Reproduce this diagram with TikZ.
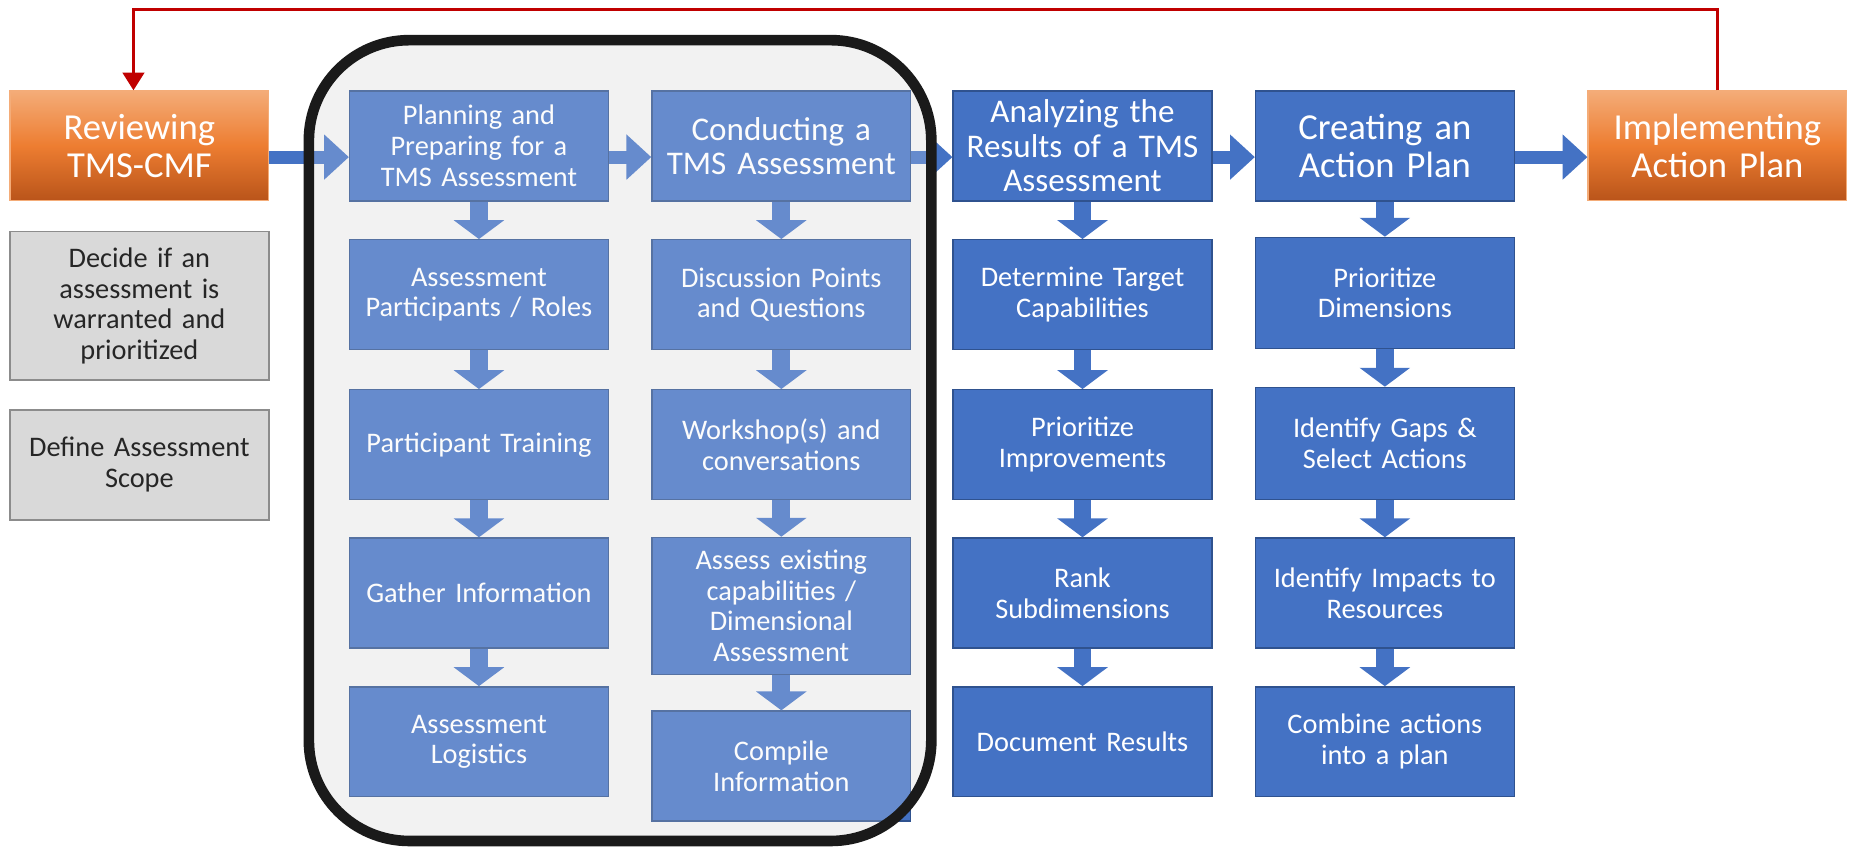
\documentclass[tikz,border=0pt]{standalone}
\usepackage{fontspec}
\setmainfont{Carlito}
\usetikzlibrary{arrows.meta,calc}
\definecolor{boxblue}{HTML}{4472C4}
\definecolor{boxedge}{HTML}{2F528F}
\definecolor{panelgray}{HTML}{F2F2F2}
\definecolor{notegray}{HTML}{D9D9D9}
\definecolor{noteedge}{HTML}{8C8C8C}
\definecolor{orangetop}{HTML}{F4AC78}
\definecolor{orangemid}{HTML}{ED7D31}
\definecolor{orangebot}{HTML}{B9541A}
\definecolor{loopred}{HTML}{C00000}
\definecolor{notetext}{HTML}{262626}
\definecolor{panelline}{HTML}{1A1A1A}
\begin{document}
\begin{tikzpicture}[x=1pt,y=-1pt,
 stepbox/.style={draw=boxedge, line width=1.2pt, fill=boxblue, text=white, minimum width=219pt, minimum height=93pt, inner sep=0pt, align=center, text width=212pt, font=\fontsize{24}{26}\selectfont},
 headbox/.style={stepbox, font=\fontsize{31}{32}\selectfont},
 midhead/.style={stepbox, font=\fontsize{28}{29}\selectfont},
 phasebox/.style={draw=orangetop, line width=1pt, top color=orangetop, bottom color=orangebot, middle color=orangemid, text=white, minimum width=219pt, minimum height=93pt, inner sep=0pt, align=center, text width=212pt, font=\fontsize{31}{32}\selectfont},
 notebox/.style={draw=noteedge, line width=1.5pt, fill=notegray, text=notetext, minimum width=219pt, inner sep=0pt, align=center, text width=212pt, font=\fontsize{24}{26}\selectfont},
 harrow/.style={draw=boxblue, line width=11pt, -{Triangle[length=21pt,width=37pt]}},
 varrow/.style={draw=boxblue, line width=15pt, -{Triangle[length=16pt,width=42pt]}},
 looparrow/.style={draw=loopred, line width=3pt, -{Triangle[length=15pt,width=18pt]}},
]
\useasboundingbox (0,0) rectangle (1568,718);
\fill[white] (0,0) rectangle (1568,718);

% grey panel background
\fill[panelgray, rounded corners=85pt] (261.5,34) rectangle (788.5,712);

% phase boxes
\node[phasebox] (rev) at (118,123.5) {Reviewing\\TMS-CMF};
\node[phasebox] (impl) at (1454,123.5) {Implementing\\Action Plan};

% note boxes
\node[notebox, minimum height=126pt] (decide) at (118,259) {Decide if an\\assessment is\\warranted and\\prioritized};
\node[notebox, minimum height=93pt] (define) at (118,393.5) {Define Assessment\\Scope};

% column 1
\node[stepbox] (p1) at (405.5,123.5) {Planning and\\Preparing for a\\TMS Assessment};
\node[stepbox] (p2) at (405.5,249.5) {Assessment\\Participants / Roles};
\node[stepbox] (p3) at (405.5,376.5) {Participant Training};
\node[stepbox] (p4) at (405.5,502) {Gather Information};
\node[stepbox] (p5) at (405.5,628) {Assessment\\Logistics};

% column 2
\node[midhead] (c1) at (661.5,123.5) {Conducting a\\TMS Assessment};
\node[stepbox] (c2) at (661.5,249.5) {Discussion Points\\and Questions};
\node[stepbox] (c3) at (661.5,376.5) {Workshop(s) and\\conversations};
\node[stepbox, minimum height=116pt] (c4) at (661.5,513) {Assess existing\\capabilities /\\Dimensional\\Assessment};
\node[stepbox] (c5) at (661.5,648.5) {Compile\\Information};

% column 3
\node[midhead] (a1) at (916.5,123.5) {Analyzing the\\Results of a TMS\\Assessment};
\node[stepbox] (a2) at (916.5,249.5) {Determine Target\\Capabilities};
\node[stepbox] (a3) at (916.5,376.5) {Prioritize\\Improvements};
\node[stepbox] (a4) at (916.5,502) {Rank\\Subdimensions};
\node[stepbox] (a5) at (916.5,628) {Document Results};

% column 4
\node[headbox] (k1) at (1172.5,123.5) {Creating an\\Action Plan};
\node[stepbox, minimum height=94pt] (k2) at (1172.5,248) {Prioritize\\Dimensions};
\node[stepbox, minimum height=95pt] (k3) at (1172.5,375.5) {Identify Gaps \&\\Select Actions};
\node[stepbox] (k4) at (1172.5,502) {Identify Impacts to\\Resources};
\node[stepbox] (k5) at (1172.5,628) {Combine actions\\into a plan};

% horizontal arrows
\draw[harrow] ([yshift=-9.5pt]rev.east) -- ([yshift=-9.5pt]p1.west);
\draw[harrow] ([yshift=-9.5pt]p1.east) -- ([yshift=-9.5pt]c1.west);
\draw[harrow] ([yshift=-9.5pt]c1.east) -- ([yshift=-9.5pt]a1.west);
\draw[harrow] ([yshift=-9.5pt]a1.east) -- ([yshift=-9.5pt]k1.west);
\draw[harrow] ([yshift=-9.5pt]k1.east) -- ([yshift=-9.5pt]impl.west);

% vertical arrows
\foreach \col in {p,c,a,k}{
  \draw[varrow] (\col1.south) -- (\col2.north);
  \draw[varrow] (\col2.south) -- (\col3.north);
  \draw[varrow] (\col3.south) -- (\col4.north);
  \draw[varrow] (\col4.south) -- (\col5.north);
}

% feedback loop
\coordinate (looptop) at (113,8);
\draw[looparrow] (impl.north) |- (looptop) -- ([xshift=-5pt]rev.north);

% translucent panel overlay and border
\fill[panelgray, opacity=0.2, rounded corners=85pt] (261.5,34) rectangle (788.5,712);
\draw[panelline, line width=9pt, rounded corners=85pt] (261.5,34) rectangle (788.5,712);
\end{tikzpicture}
\end{document}
